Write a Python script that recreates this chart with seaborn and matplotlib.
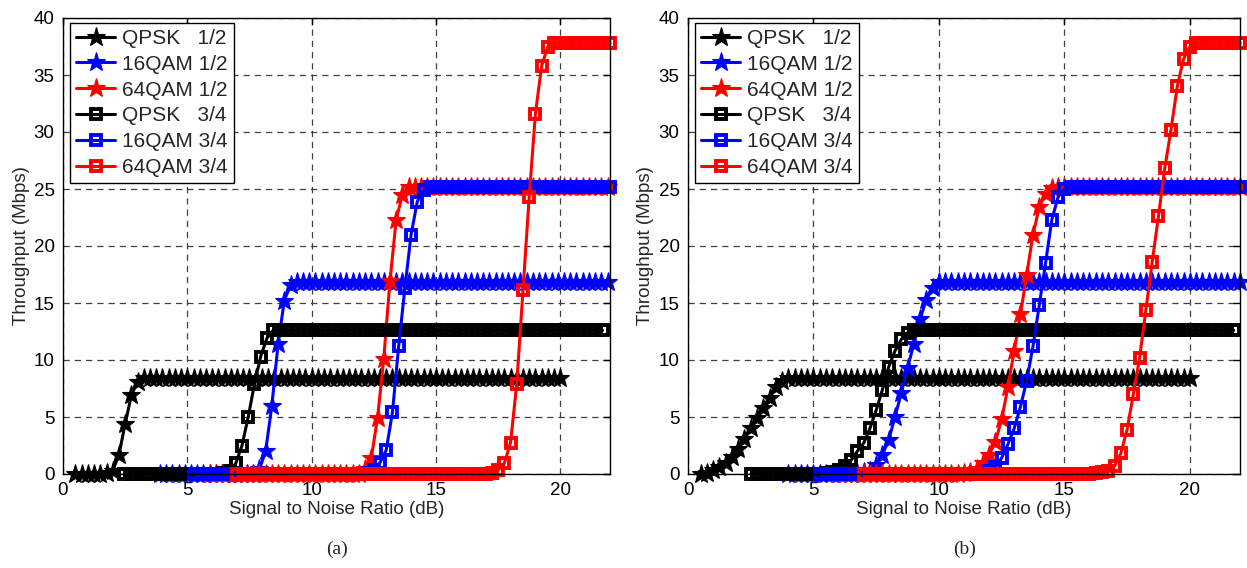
import matplotlib
matplotlib.use("Agg")
import matplotlib.pyplot as plt
import numpy as np
import pandas as pd
import seaborn as sns

# SNR sweep step of the simulation (dB)
SNR_STEP = 0.25

LABELS = ["QPSK   1/2", "16QAM 1/2", "64QAM 1/2", "QPSK   3/4", "16QAM 3/4", "64QAM 3/4"]

# ---- panel (a): first SNR value of each series and throughput (Mbps)
a_start = [0.5, 3.9, 5.9, 2.45, 5.25, 7.0]
a_qpsk_12 = [0.0] * 5 + [0.05, 0.3, 1.7, 4.4, 6.9, 8.1] + [8.4] * 68
a_16qam_12 = [0.0] * 16 + [0.4, 2.0, 6.0, 11.4, 15.2, 16.6] + [16.8] * 51
a_64qam_12 = [0.0] * 25 + [0.4, 1.4, 4.9, 10.1, 16.9, 22.3, 24.5] + [25.2] * 33
a_qpsk_34 = [0.0] * 16 + [0.05, 0.25, 0.94, 2.5, 5.0, 7.9, 10.3, 11.9] + [12.6] * 54
a_16qam_34 = [0.0] * 28 + [0.1, 0.35, 1.0, 2.1, 5.4, 11.2, 16.3, 21.0, 23.9, 24.9] + [25.2] * 30
a_64qam_34 = [0.0] * 41 + [0.1, 0.35, 0.94, 2.75, 7.9, 16.1, 24.3, 31.6, 35.8, 37.5] + [37.8] * 10

# ---- panel (b)
b_start = [0.5, 4.0, 6.0, 2.5, 5.25, 7.0]
b_qpsk_12 = [0.0, 0.1, 0.35, 0.6, 0.95, 1.5, 2.2, 3.1, 4.0, 4.9, 5.8, 6.7, 7.6, 8.2] + [8.4] * 65
b_16qam_12 = [0.0] * 11 + [0.05, 0.15, 0.3, 0.75, 1.7, 3.0, 5.0, 7.1, 9.3, 11.4, 13.6, 15.3, 16.3] + [16.8] * 49
b_64qam_12 = [0.0] * 20 + [0.05, 0.15, 0.45, 1.0, 1.7, 2.8, 4.8, 7.6, 10.8, 14.0, 17.5, 21.0,
                           23.4, 24.6, 25.1] + [25.2] * 30
b_qpsk_34 = [0.0] * 12 + [0.05, 0.15, 0.35, 0.7, 1.2, 2.0, 2.7, 4.0, 5.6, 7.4, 9.4, 10.8,
                          11.8, 12.4] + [12.6] * 52
b_16qam_34 = [0.0] * 27 + [0.25, 0.6, 1.4, 2.6, 4.0, 5.9, 8.2, 11.2, 14.8, 18.5, 22.3,
                           24.3, 25.0] + [25.2] * 28
b_64qam_34 = [0.0] * 37 + [0.05, 0.15, 0.3, 0.7, 1.8, 3.9, 7.0, 10.2, 14.4, 18.6, 22.6,
                           26.8, 30.2, 34.0, 36.4, 37.5] + [37.8] * 8

COLORS = ["black", "blue", "red", "black", "blue", "red"]
MARKERS = ["*", "*", "*", "s", "s", "s"]


def build_frame(starts, series):
    rows = []
    for label, start, vals in zip(LABELS, starts, series):
        snr = start + SNR_STEP * np.arange(len(vals))
        rows.append(pd.DataFrame({"snr": snr, "throughput": vals, "scheme": label}))
    return pd.concat(rows, ignore_index=True)


df_a = build_frame(a_start, [a_qpsk_12, a_16qam_12, a_64qam_12, a_qpsk_34, a_16qam_34, a_64qam_34])
df_b = build_frame(b_start, [b_qpsk_12, b_16qam_12, b_64qam_12, b_qpsk_34, b_16qam_34, b_64qam_34])

sns.set_theme(style="white")
plt.rcParams["font.family"] = ["Liberation Sans", "DejaVu Sans"]

fig = plt.figure(figsize=(12.47, 5.68), dpi=100)
ax_a = fig.add_axes([63 / 1247, 94 / 568, 547 / 1247, 456 / 568])
ax_b = fig.add_axes([688 / 1247, 94 / 568, 552 / 1247, 456 / 568])


def draw_panel(ax, df):
    for label, color, marker in zip(LABELS, COLORS, MARKERS):
        sub = df[df["scheme"] == label]
        star = marker == "*"
        sns.lineplot(
            data=sub, x="snr", y="throughput", ax=ax,
            color=color, linewidth=2.2, label=label,
            marker=marker,
            markersize=14 if star else 7,
            markerfacecolor=color if star else "none",
            markeredgecolor=color,
            markeredgewidth=0.8 if star else 2.8,
            clip_on=False,
        )
    ax.set_xlim(0, 22)
    ax.set_ylim(0, 40)
    ax.set_xticks([0, 5, 10, 15, 20])
    ax.set_yticks(range(0, 41, 5))
    ax.set_axisbelow(True)
    ax.grid(True, color="0.25", linestyle=(0, (5, 4)), linewidth=0.9)
    ax.tick_params(direction="in", top=True, right=True, length=5, width=1,
                   labelsize=13.5, colors="black", pad=6)
    for sp in ax.spines.values():
        sp.set_color("black")
        sp.set_linewidth(1)
        sp.set_zorder(5)
    ax.set_xlabel("Signal to Noise Ratio (dB)", fontsize=13.5, labelpad=1)
    ax.set_ylabel("Throughput (Mbps)", fontsize=13.5, labelpad=3)
    leg = ax.legend(loc="upper left", bbox_to_anchor=(0.012, 0.99), borderaxespad=0,
                    fontsize=15, handlelength=1.9, labelspacing=0.33, borderpad=0.3,
                    handletextpad=0.3, fancybox=False, framealpha=1)
    leg.get_frame().set_edgecolor("black")
    leg.get_frame().set_linewidth(1)


draw_panel(ax_a, df_a)
draw_panel(ax_b, df_b)

fig.text(337 / 1247, 1 - 549 / 568, "(a)", ha="center", va="center", fontsize=14,
         family="Liberation Serif")
fig.text(965 / 1247, 1 - 549 / 568, "(b)", ha="center", va="center", fontsize=14,
         family="Liberation Serif")

fig.savefig("out.png", dpi=100)
